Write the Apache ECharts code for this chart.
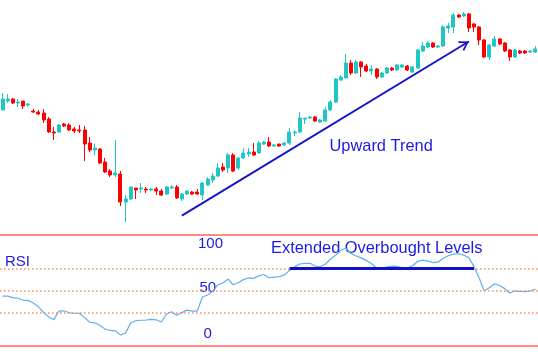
<!DOCTYPE html>
<html>
<head>
<meta charset="utf-8">
<script src="https://cdn.jsdelivr.net/npm/echarts@6/dist/echarts.min.js"></script>
<style>html,body{margin:0;padding:0;background:#fff}#c{width:538px;height:358px}</style>
</head>
<body>
<div id="c"></div>
<script>
// ---- data (price units are arbitrary) ----
const opens  = [140,149,151,147,149,145,139,138,137,131,118,118,126,125,121,120,120,107,100,101,88,79,75,76,48,51,62,61,61,60,61,59,56,62,63,51,56,58,58,55,65,70,74,83,82,95,82,92,96,98,97,106,108,104,106,105,107,117,118,131,132,133,128,129,140,148,170,172,187,177,188,184,179,181,173,177,182,180,183,184,178,182,199,203,207,203,204,222,223,235,234,236,226,223,210,193,204,211,207,200,193,199,199,198,198];
const closes = [151,151,147,148,144,146,138,136,130,118,117,125,124,120,119,119,106,100,102,87,78,75,77,48,51,63,60,62,60,61,59,55,63,63,52,56,59,56,56,67,71,74,82,80,95,79,92,97,98,95,107,108,104,105,104,107,118,118,132,132,133,129,130,140,148,171,173,187,177,188,183,179,181,173,177,182,180,185,185,180,183,200,204,207,203,204,223,224,235,233,236,222,223,210,193,205,211,206,199,193,200,197,197,199,201];
const lows   = [140,147,146,143,141,143,137,135,127,117,110,117,123,119,117,117,89,98,95,86,77,73,73,44,28,50,51,57,57,59,55,54,55,61,51,49,55,55,55,50,64,67,73,78,77,78,80,91,93,94,97,105,103,103,103,104,105,114,117,126,131,128,127,128,139,147,169,172,175,176,173,178,175,171,172,176,179,179,182,179,177,181,198,202,202,202,203,217,217,232,233,218,218,205,192,190,203,205,198,189,192,196,196,197,197];
const highs  = [157,156,152,151,149,147,141,140,141,133,123,126,127,127,123,125,124,113,106,102,92,81,110,79,55,63,62,67,63,62,63,61,64,65,65,57,60,59,61,68,73,77,87,87,97,97,93,102,102,107,109,109,113,106,106,108,122,120,138,132,134,134,131,143,150,172,175,196,190,190,189,186,185,182,178,183,183,186,186,185,184,201,208,209,208,205,225,227,237,236,238,237,227,224,211,206,214,212,208,201,201,200,200,200,204];
const rsi    = [44.9,44.9,43.6,43.0,41.4,41.1,38.7,35.3,30.2,26.2,23.8,31.5,31.7,29.9,29.5,29.5,25.6,21.4,20.9,18.4,15.3,14.0,13.6,9.9,11.6,20.7,22.8,23.2,23.4,24.0,23.6,21.6,28.8,30.8,27.7,30.1,32.3,31.5,31.5,44.1,45.9,49.1,55.0,56.8,60.4,55.2,57.0,59.8,61.3,60.9,63.2,64.4,61.5,62.0,62.5,64.1,68.0,71.3,73.9,74.5,74.5,72.0,71.4,73.9,78.2,81.7,86.2,88.1,83.3,81.1,79.4,76.9,74.3,70.0,70.0,71.2,72.0,71.7,70.5,70.2,72.3,76.2,77.4,76.4,75.1,75.5,79.0,81.3,82.8,83.1,81.9,79.6,71.7,61.5,49.6,52.4,56.0,54.5,51.7,47.7,49.5,49.2,49.0,49.5,51.2];
const categories = opens.map((_, i) => 'Bar ' + (i + 1));
const rsiLevels = [70, 50, 30];
const rsiBounds = [0, 100];
const rsiTickLabels = ['100', '50', '0'];
const trendFrom = [35, 34.4];   // [bar index, price]
const trendTo = [91, 208.5];
const overboughtFrom = 56, overboughtTo = 92, overboughtLevel = 70;

const ohlc = opens.map((o, i) => [o, closes[i], lows[i], highs[i]]);

const UP = '#1fc6c6', DOWN = '#ff0000', BLUE = '#1a1ae6', FONT = '"Liberation Sans", Arial, sans-serif';
const chevron = 'path://M5.5,0 L5.6,0.1 L5.4,0.1 Z M5.5,9.8 L11,18.6 L9.6,19.6 L5.5,13 L1.4,19.6 L0,18.6 Z';

const chart = echarts.init(document.getElementById('c'), null, {renderer: 'canvas'});
chart.setOption({
  animation: false,
  backgroundColor: '#ffffff',
  grid: [
    {left: 0, right: 0, top: 0, height: 230},
    {left: 0, right: 0, top: 235, height: 111}
  ],
  xAxis: [
    {type: 'category', data: categories, gridIndex: 0, boundaryGap: true, show: false},
    {type: 'category', data: categories, gridIndex: 1, boundaryGap: true, show: false}
  ],
  yAxis: [
    {type: 'value', gridIndex: 0, min: 20, max: 250, show: false, splitLine: {show: false}},
    {type: 'value', gridIndex: 1, min: 0, max: 100, show: false, splitLine: {show: false}}
  ],
  series: [
    {
      type: 'candlestick', xAxisIndex: 0, yAxisIndex: 0, data: ohlc, barWidth: 3.5,
      itemStyle: {color: UP, color0: DOWN, borderColor: UP, borderColor0: DOWN, borderWidth: 1},
      markLine: {
        silent: true, animation: false, symbol: ['none', 'none'],
        label: {show: false},
        lineStyle: {color: '#1414cc', width: 2, type: 'solid'},
        data: [[
          {coord: [categories[trendFrom[0]], trendFrom[1]], symbol: 'none'},
          {coord: [categories[trendTo[0]], trendTo[1]], symbol: chevron, symbolSize: [11, 19.6]}
        ]]
      }
    },
    {
      type: 'line', xAxisIndex: 1, yAxisIndex: 1, data: rsi, showSymbol: false, symbol: 'none',
      lineStyle: {color: '#5fb0f0', width: 1.2},
      markLine: {
        silent: true, animation: false, symbol: ['none', 'none'],
        label: {show: false},
        data: [
          ...rsiLevels.map(v => ({yAxis: v, lineStyle: {color: '#ff8a55', width: 1.5, type: [1.5, 2.5]}})),
          ...rsiBounds.map(v => ({yAxis: v, lineStyle: {color: '#ff6060', width: 1.6, type: 'solid'}})),
          [
            {coord: [categories[overboughtFrom], overboughtLevel], lineStyle: {color: '#1010c8', width: 3, type: 'solid'}},
            {coord: [categories[overboughtTo], overboughtLevel]}
          ]
        ]
      }
    }
  ],
  graphic: [
    {type: 'text', left: 329.5, top: 138, style: {text: 'Upward Trend', fill: BLUE, font: '16.4px ' + FONT}},
    {type: 'text', left: 271, top: 240, style: {text: 'Extended Overbought Levels', fill: BLUE, font: '16.4px ' + FONT}},
    {type: 'text', left: 5, top: 254, style: {text: 'RSI', fill: BLUE, font: '15px ' + FONT}},
    {type: 'text', left: 198, top: 236, style: {text: rsiTickLabels[0], fill: BLUE, font: '15px ' + FONT}},
    {type: 'text', left: 199.5, top: 280.5, style: {text: rsiTickLabels[1], fill: BLUE, font: '15px ' + FONT}},
    {type: 'text', left: 203.5, top: 326, style: {text: rsiTickLabels[2], fill: BLUE, font: '15px ' + FONT}}
  ]
});
</script>
</body>
</html>
